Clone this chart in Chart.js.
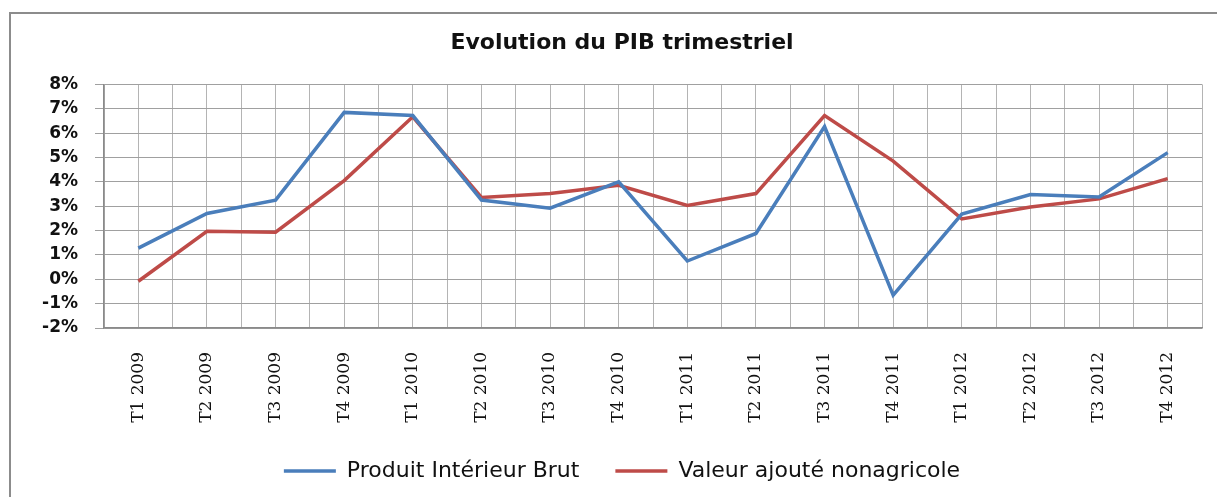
<!DOCTYPE html>
<html>
<head>
<meta charset="utf-8">
<script src="https://cdn.jsdelivr.net/npm/chart.js@4/dist/chart.umd.min.js"></script>
<style>
  html, body { margin: 0; padding: 0; background: #fff; }
  #wrap { position: relative; width: 1217px; height: 497px; }
  #frame { position: absolute; left: 9px; top: 12px; right: -5px; bottom: -5px;
           border-left: 2px solid #8c8c8c; border-top: 2px solid #8c8c8c; }
  canvas { position: absolute; left: 0; top: 0; }
</style>
</head>
<body>
<div id="wrap">
  <div id="frame"></div>
  <canvas id="chart" width="1217" height="497"></canvas>
</div>
<script>
// Quarters shown on the x axis
const quarters = [
  'T1 2009', 'T2 2009', 'T3 2009', 'T4 2009',
  'T1 2010', 'T2 2010', 'T3 2010', 'T4 2010',
  'T1 2011', 'T2 2011', 'T3 2011', 'T4 2011',
  'T1 2012', 'T2 2012', 'T3 2012', 'T4 2012'
];

// Growth rates in %
const pib = [1.28, 2.7, 3.25, 6.85, 6.72, 3.25, 2.92, 4.0, 0.75, 1.88, 6.27, -0.65, 2.68, 3.48, 3.38, 5.2];
const vaNonAgricole = [-0.08, 1.97, 1.93, 4.05, 6.67, 3.36, 3.52, 3.86, 3.03, 3.52, 6.72, 4.85, 2.48, 2.97, 3.3, 4.13];

const yMin = -2;
const yMax = 8;

const canvas = document.getElementById('chart');
const ctx = canvas.getContext('2d');

new Chart(ctx, {
  type: 'line',
  data: {
    labels: quarters,
    datasets: [
      {
        label: 'Produit Intérieur Brut',
        data: pib,
        borderColor: '#4a7ebb',
        backgroundColor: '#4a7ebb',
        borderWidth: 3.5,
        pointRadius: 0,
        tension: 0,
        fill: false
      },
      {
        label: 'Valeur ajouté nonagricole',
        data: vaNonAgricole,
        borderColor: '#be4b48',
        backgroundColor: '#be4b48',
        borderWidth: 3.5,
        pointRadius: 0,
        tension: 0,
        fill: false
      }
    ]
  },
  options: {
    responsive: false,
    animation: false,
    layout: {
      padding: { left: 42, right: 15, top: 0, bottom: 5 }
    },
    plugins: {
      title: {
        display: true,
        text: 'Evolution du PIB trimestriel',
        color: '#111',
        font: { family: 'DejaVu Sans', size: 22, weight: 'bold' },
        padding: { top: 30, bottom: 28 }
      },
      legend: {
        position: 'bottom',
        labels: {
          color: '#111',
          font: { family: 'DejaVu Sans', size: 22 },
          usePointStyle: true,
          pointStyle: 'line',
          pointStyleWidth: 52,
          padding: 36
        }
      },
      tooltip: { enabled: false }
    },
    scales: {
      x: {
        type: 'category',
        offset: true,
        grid: {
          offset: true,
          color: '#b4b4b4',
          lineWidth: 1,
          drawTicks: false
        },
        border: { color: '#8a8a8a', width: 1.5 },
        ticks: {
          color: '#111',
          font: { family: 'DejaVu Serif', size: 17 },
          minRotation: 90,
          maxRotation: 90,
          autoSkip: false,
          padding: 24
        },
        afterFit: function(scale) {
          // room for the rotated labels (they are clipped to this box)
          scale.height = 96;
        }
      },
      x2: {
        // second category axis, only to draw the grid line through each quarter
        type: 'category',
        labels: quarters,
        position: 'bottom',
        offset: true,
        grid: {
          offset: false,
          color: '#b4b4b4',
          lineWidth: 1,
          drawTicks: false
        },
        border: { display: false },
        ticks: { display: false },
        afterFit: function(scale) {
          scale.height = 0;
        }
      },
      y: {
        min: yMin,
        max: yMax,
        grid: {
          color: '#a0a0a0',
          lineWidth: 1,
          tickLength: 9
        },
        border: { color: '#8a8a8a', width: 1.5 },
        ticks: {
          stepSize: 1,
          autoSkip: false,
          color: '#111',
          font: { family: 'DejaVu Sans', size: 17, weight: 'bold' },
          padding: 17,
          callback: function(value) {
            return value + '%';
          }
        },
        afterFit: function(scale) {
          scale.width = 62;
        }
      }
    }
  }
});
</script>
</body>
</html>
